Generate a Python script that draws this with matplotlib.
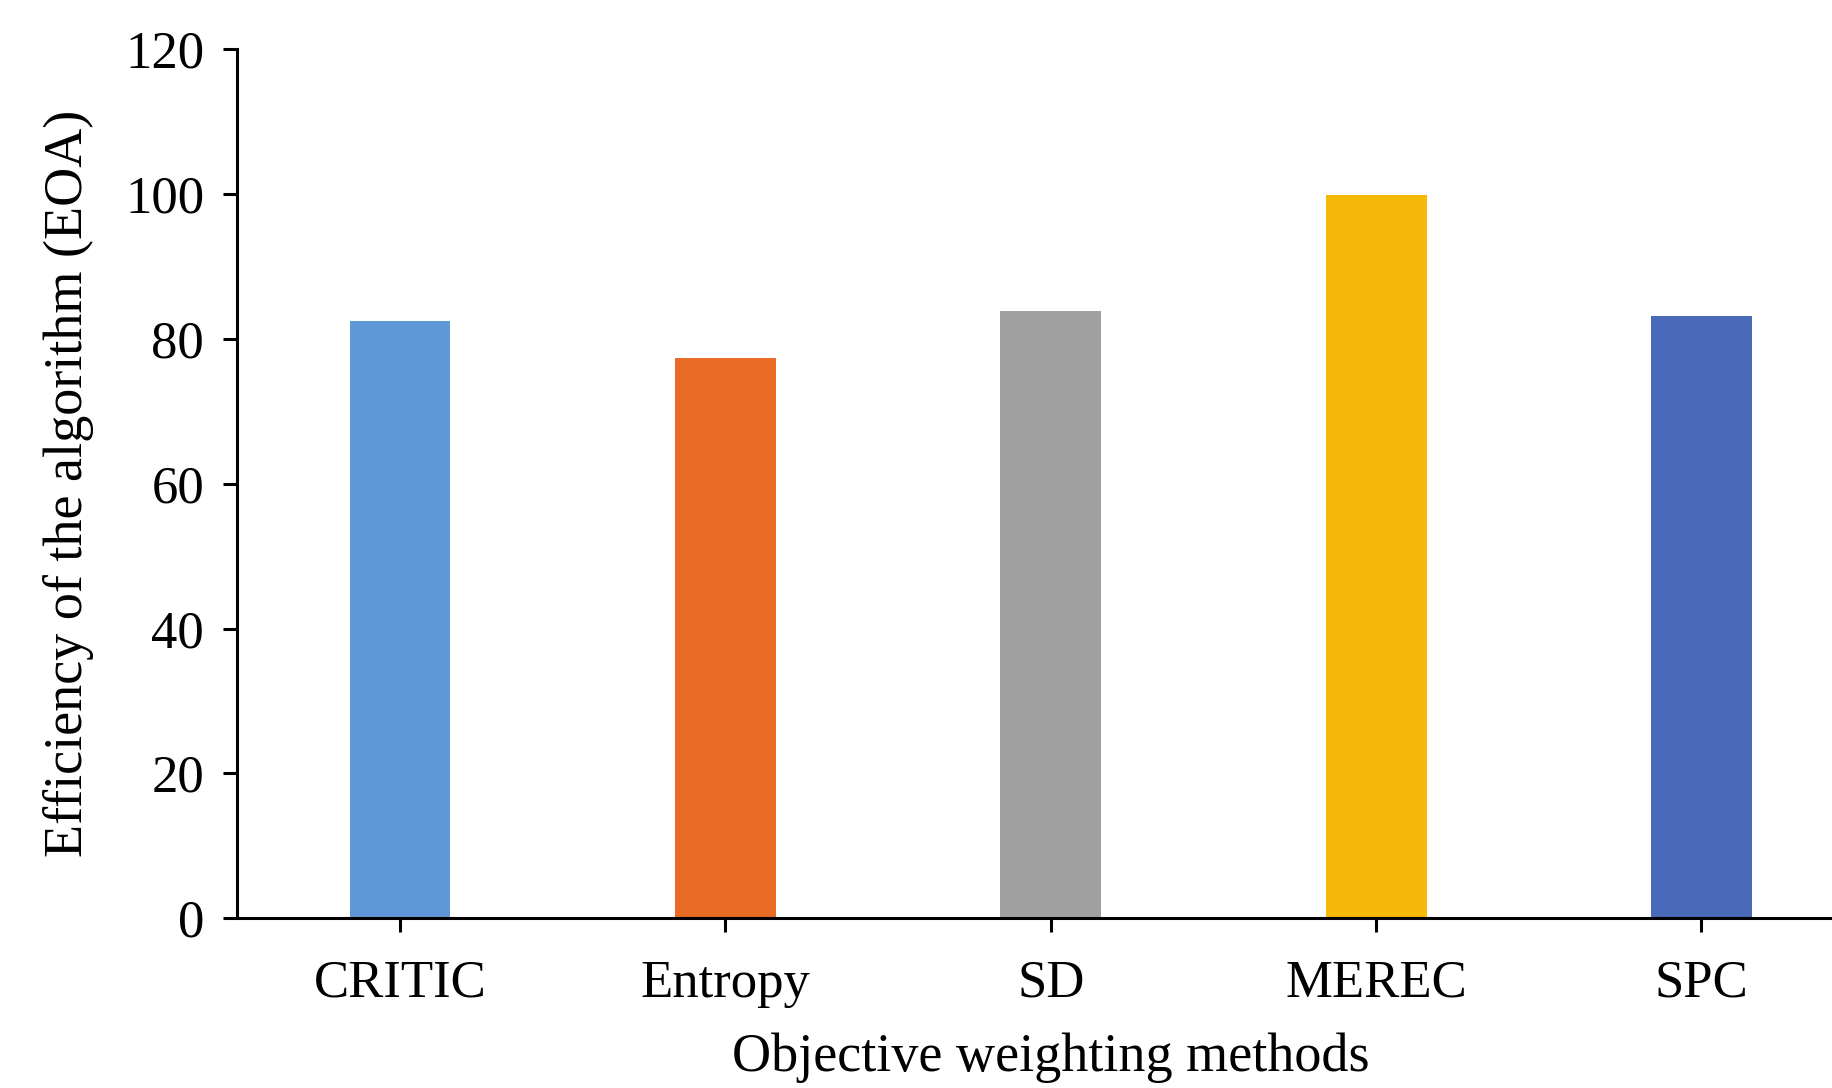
import matplotlib
matplotlib.use("Agg")
import matplotlib.pyplot as plt

categories = ["CRITIC", "Entropy", "SD", "MEREC", "SPC"]
values = [82.4, 77.4, 83.8, 99.8, 83.1]
colors = ["#5F98D6", "#EA6B25", "#A0A0A0", "#F6B90A", "#4A6BBA"]
yticks = [0, 20, 40, 60, 80, 100, 120]

plt.rcParams['font.family'] = ['Liberation Serif', 'DejaVu Serif']

fig = plt.figure(figsize=(18.33, 10.88), dpi=100)
ax = fig.add_axes([0.1295, 0.156, 1.017 - 0.1295, 0.955 - 0.156])

x = list(range(len(categories)))
ax.bar(x, values, width=0.31, color=colors)

ax.set_xlim(-0.5, len(categories) - 0.5)
ax.set_ylim(0, 120)
ax.set_yticks(yticks)
ax.set_xticks(x)
ax.set_xticklabels(categories)

for s in ["top", "right"]:
    ax.spines[s].set_visible(False)
for s in ["left", "bottom"]:
    ax.spines[s].set_linewidth(2.2)
    ax.spines[s].set_color("black")

ax.tick_params(axis="both", labelsize=38, width=2.2, length=10, direction="out", colors="black")
ax.tick_params(axis="x", pad=20)
ax.tick_params(axis="y", pad=14)

ax.set_ylabel("Efficiency of the algorithm (EOA)", fontsize=39, labelpad=22)
ax.set_xlabel("Objective weighting methods", fontsize=39, labelpad=18)

fig.savefig("out.png", dpi=100)
